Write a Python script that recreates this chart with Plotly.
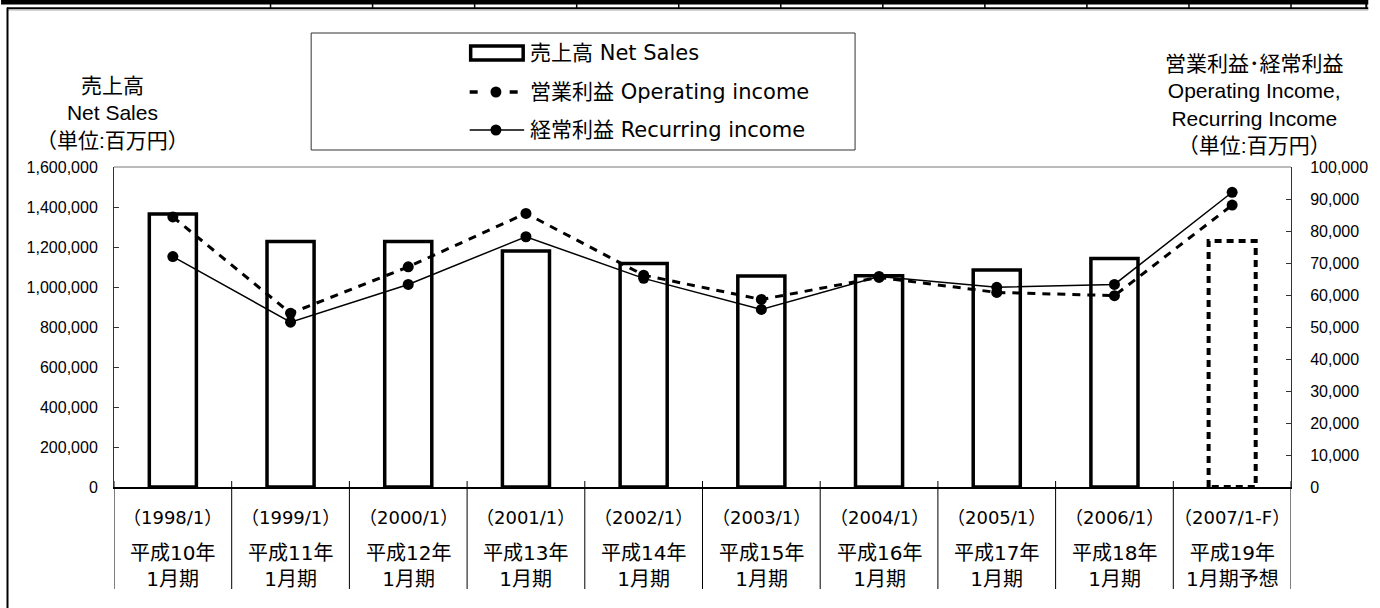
import plotly.graph_objects as go

# ---------------- data ----------------
periods = ["（1998/1）", "（1999/1）", "（2000/1）", "（2001/1）", "（2002/1）",
           "（2003/1）", "（2004/1）", "（2005/1）", "（2006/1）", "（2007/1-F）"]
fiscal_labels = ["平成10年<br>1月期", "平成11年<br>1月期", "平成12年<br>1月期", "平成13年<br>1月期",
                 "平成14年<br>1月期", "平成15年<br>1月期", "平成16年<br>1月期", "平成17年<br>1月期",
                 "平成18年<br>1月期", "平成19年<br>1月期予想"]
net_sales = [1365000, 1227000, 1227000, 1180000, 1118000, 1055000, 1056000, 1085000, 1143000, 1230000]
operating_income = [84400, 54300, 68800, 85500, 66200, 58600, 65500, 60800, 59800, 88100]
recurring_income = [72000, 51500, 63300, 78200, 65200, 55500, 65800, 62400, 63300, 92100]
forecast_flags = [False, False, False, False, False, False, False, False, False, True]

# ---------------- geometry helpers ----------------
W, H = 1380, 608
L, R, T, B = 114, 1302, 167, 487


def px(x):
    return (x - L) / (R - L)


def py(y):
    return (B - y) / (B - T)


BAR_W = 0.4
idx = list(range(len(periods)))
act_idx = [i for i in idx if not forecast_flags[i]]
fc_idx = [i for i in idx if forecast_flags[i]]

fig = go.Figure()

# actual net sales bars
fig.add_trace(go.Bar(
    x=act_idx, y=[net_sales[i] for i in act_idx], width=BAR_W,
    marker=dict(color="white", line=dict(color="black", width=3.5)),
    name="売上高 Net Sales", showlegend=False, yaxis="y"))

# forecast bar (dashed outline)
for i in fc_idx:
    v = net_sales[i]
    fig.add_trace(go.Scatter(
        x=[i - BAR_W / 2, i - BAR_W / 2, i + BAR_W / 2, i + BAR_W / 2, i - BAR_W / 2],
        y=[0, v, v, 0, 0], mode="lines",
        line=dict(color="black", width=4, dash="7px,5px"),
        showlegend=False, hoverinfo="skip", yaxis="y"))

# operating income (dashed)
fig.add_trace(go.Scatter(
    x=idx, y=operating_income, mode="lines+markers", yaxis="y2",
    line=dict(color="black", width=3, dash="8px,7px"),
    marker=dict(color="black", size=11),
    name="営業利益 Operating income", showlegend=False))

# recurring income (solid)
fig.add_trace(go.Scatter(
    x=idx, y=recurring_income, mode="lines+markers", yaxis="y2",
    line=dict(color="black", width=1.5),
    marker=dict(color="black", size=11),
    name="経常利益 Recurring income", showlegend=False))

tick_font = dict(family="Liberation Sans, Arial, sans-serif", size=16, color="black")
title_font = dict(family="Liberation Sans, Arial, Noto Sans CJK JP, sans-serif", size=21, color="black")
leg_font = dict(family="DejaVu Sans, Noto Sans CJK JP, sans-serif", size=21, color="black")
cat_font = dict(family="DejaVu Sans, Noto Sans CJK JP, sans-serif", size=18, color="black")
cat_font2 = dict(family="DejaVu Sans, Noto Sans CJK JP, sans-serif", size=20, color="black")

fig.update_layout(
    width=W, height=H, autosize=False,
    margin=dict(l=L, r=W - R, t=T, b=H - B, pad=0),
    paper_bgcolor="white", plot_bgcolor="white",
    bargap=0.6,
    xaxis=dict(range=[-0.5, len(periods) - 0.5], showticklabels=False, showgrid=False,
               zeroline=False, showline=True, linecolor="black", linewidth=2, ticks=""),
    yaxis=dict(range=[0, 1600000], dtick=200000, tickformat=",", showgrid=False, zeroline=False,
               showline=True, linecolor="#333", linewidth=1, ticks="inside", ticklen=5,
               tickcolor="#333", tickfont=tick_font, ticklabelstandoff=12),
    yaxis2=dict(range=[0, 100000], dtick=10000, tickformat=",", overlaying="y", side="right",
                showgrid=False, zeroline=False, showline=True, linecolor="#333", linewidth=1,
                ticks="inside", ticklen=5, tickcolor="#333", tickfont=tick_font,
                ticklabelstandoff=15),
)

shapes = []
ann = []

# plot top line
shapes.append(dict(type="line", xref="paper", yref="paper", x0=0, x1=1, y0=1, y1=1,
                   line=dict(color="#777", width=1)))

# category dividers below the axis
for k in range(len(periods) + 1):
    shapes.append(dict(type="line", xref="x", yref="paper", x0=k - 0.5, x1=k - 0.5,
                       y0=py(589), y1=py(481), line=dict(color="black", width=1)))

# category labels
for i in idx:
    ann.append(dict(x=i, xref="x", y=py(517), yref="paper", text=periods[i], showarrow=False,
                    font=cat_font, xanchor="center", yanchor="middle"))
    ann.append(dict(x=i, xref="x", y=py(565.5), yref="paper", text=fiscal_labels[i],
                    showarrow=False, font=cat_font2, xanchor="center", yanchor="middle"))

# axis titles
ann.append(dict(x=px(112), y=py(113.5), xref="paper", yref="paper",
                text="売上高<br>Net Sales<br>（単位:百万円）", showarrow=False,
                font=title_font, xanchor="center", yanchor="middle", align="center"))
ann.append(dict(x=px(1265), y=py(105), xref="paper", yref="paper",
                text="営業利益･経常利益<br>Operating Income,<br>Recurring Income<br>（単位:百万円）",
                showarrow=False, font=title_font, xanchor="center", yanchor="middle", align="center"))

# manual legend
shapes.append(dict(type="rect", xref="paper", yref="paper", x0=px(313), x1=px(862),
                   y0=py(150), y1=py(33), line=dict(color="#333", width=1), fillcolor="white",
                   layer="above"))
shapes.append(dict(type="rect", xref="paper", yref="paper", x0=px(474), x1=px(527),
                   y0=py(60), y1=py(46), line=dict(color="black", width=3.5), fillcolor="white"))
shapes.append(dict(type="line", xref="paper", yref="paper", x0=px(473), x1=px(528),
                   y0=py(92), y1=py(92), line=dict(color="black", width=3.5, dash="8px,32px")))
shapes.append(dict(type="line", xref="paper", yref="paper", x0=px(473), x1=px(528),
                   y0=py(130), y1=py(130), line=dict(color="black", width=1.5)))
for yy in (92, 130):
    shapes.append(dict(type="circle", xref="paper", yref="paper", x0=px(494), x1=px(505),
                       y0=py(yy + 5.5), y1=py(yy - 5.5), fillcolor="black",
                       line=dict(color="black", width=0)))
for yy, txt in ((53, "売上高 Net Sales"), (92, "営業利益 Operating income"),
                (130, "経常利益 Recurring income")):
    ann.append(dict(x=px(532), y=py(yy), xref="paper", yref="paper", text=txt, showarrow=False,
                    font=leg_font, xanchor="left", yanchor="middle"))

# page frame decorations (cropped table above)
shapes.append(dict(type="rect", xref="paper", yref="paper", x0=px(0), x1=px(W),
                   y0=py(4.5), y1=py(0), fillcolor="black", line=dict(width=0)))
for k in range(11):
    xx = 272 + 103 * k
    shapes.append(dict(type="line", xref="paper", yref="paper", x0=px(xx), x1=px(xx),
                       y0=py(8), y1=py(3), line=dict(color="black", width=1.5)))
shapes.append(dict(type="line", xref="paper", yref="paper", x0=px(1378), x1=px(1378),
                   y0=py(9), y1=py(0), line=dict(color="black", width=2)))
shapes.append(dict(type="line", xref="paper", yref="paper", x0=px(6), x1=px(W),
                   y0=py(8.3), y1=py(8.3), line=dict(color="black", width=2)))
shapes.append(dict(type="line", xref="paper", yref="paper", x0=px(7), x1=px(W),
                   y0=py(10), y1=py(10), line=dict(color="#aaa", width=1)))
shapes.append(dict(type="line", xref="paper", yref="paper", x0=px(6.5), x1=px(6.5),
                   y0=py(W), y1=py(7.5), line=dict(color="black", width=2)))

fig.update_layout(shapes=shapes, annotations=ann)

fig.write_html("out.html", config={"displayModeBar": False},
               post_script="document.body.style.margin='0';")
